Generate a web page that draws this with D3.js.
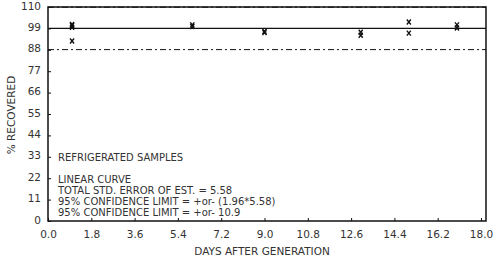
<!DOCTYPE html>
<html>
<head>
<meta charset="utf-8">
<script src="https://cdn.jsdelivr.net/npm/d3@7"></script>
<style>
  body { margin: 0; background: #fff; }
  text { font-family: "DejaVu Sans", sans-serif; fill: #333; }
</style>
</head>
<body>
<script>
// data
const days = [1, 1, 1, 1, 6, 6, 9, 9, 13, 13, 15, 15, 17, 17];
const recovered = [100.5, 99.5, 101, 92.5, 100.8, 100, 97.5, 96.8, 97, 95.5, 102.3, 96.6, 100.8, 99.2];
const fitLevel = 99;
const confLimit = 10.9;
const xTicks = [0, 1.8, 3.6, 5.4, 7.2, 9.0, 10.8, 12.6, 14.4, 16.2, 18.0];
const yTicks = [0, 11, 22, 33, 44, 55, 66, 77, 88, 99, 110];
const notes = [
  "REFRIGERATED SAMPLES",
  "",
  "LINEAR CURVE",
  "TOTAL STD. ERROR OF EST. = 5.58",
  "95% CONFIDENCE LIMIT = +or- (1.96*5.58)",
  "95% CONFIDENCE LIMIT = +or- 10.9"
];

const W = 500, H = 260;
const pLeft = 48, pRight = 486, pTop = 7, pBottom = 221;

const svg = d3.select("body").append("svg").attr("width", W).attr("height", H);

const x = d3.scaleLinear().domain([0, 18]).range([pLeft, 481]);
const y = d3.scaleLinear().domain([0, 110]).range([pBottom, pTop]);

// frame
svg.append("rect").attr("x", pLeft).attr("y", pTop)
  .attr("width", pRight - pLeft).attr("height", pBottom - pTop)
  .attr("fill", "none").attr("stroke", "#111").attr("stroke-width", 1.5);

// axes
const xAxis = d3.axisBottom(x).tickValues(xTicks).tickFormat(d3.format(".1f")).tickSizeInner(-3).tickSizeOuter(0);
const yAxis = d3.axisLeft(y).tickValues(yTicks).tickFormat(d => d).tickSizeInner(-3).tickSizeOuter(0);

const gx = svg.append("g").attr("transform", `translate(0,${pBottom})`).call(xAxis);
gx.select(".domain").remove();
gx.selectAll("text").attr("dy", "1.35em").style("font-size", "10.5px").style("font-family", "DejaVu Sans").style("fill", "#333");
gx.selectAll("line").attr("stroke", "#111");

const gy = svg.append("g").attr("transform", `translate(${pLeft},0)`).call(yAxis);
gy.select(".domain").remove();
gy.selectAll("text").attr("x", -7).attr("dy", "0.2em").style("font-size", "10.5px").style("font-family", "DejaVu Sans").style("fill", "#333");
gy.selectAll("line").attr("stroke", "#111");

// regression and confidence lines
svg.append("line").attr("x1", pLeft).attr("x2", pRight)
  .attr("y1", y(fitLevel)).attr("y2", y(fitLevel))
  .attr("stroke", "#111").attr("stroke-width", 1.2);

[fitLevel - confLimit, fitLevel + confLimit].forEach(v => {
  svg.append("line").attr("x1", pLeft).attr("x2", pRight)
    .attr("y1", y(Math.min(v, 110))).attr("y2", y(Math.min(v, 110)))
    .attr("stroke", "#111").attr("stroke-width", 1)
    .attr("stroke-dasharray", "6,3,2,3");
});

// markers
const pts = days.map((d, i) => [d, recovered[i]]);
const m = svg.append("g").attr("stroke", "#111").attr("stroke-width", 1.4);
pts.forEach(p => {
  const cx = x(p[0]), cy = y(p[1]);
  m.append("path").attr("d", `M${cx - 2},${cy - 2.5}L${cx + 2},${cy + 2.5}M${cx + 2},${cy - 2.5}L${cx - 2},${cy + 2.5}`);
});

// notes
svg.append("g").selectAll("text").data(notes).enter().append("text")
  .attr("x", 58).attr("y", (d, i) => 161 + i * 11)
  .style("font-size", "10px")
  .text(d => d);

// axis titles
svg.append("text").attr("x", 262).attr("y", 255).attr("text-anchor", "middle")
  .style("font-size", "10.5px").text("DAYS AFTER GENERATION");
svg.append("text").attr("transform", "translate(15,115) rotate(-90)").attr("text-anchor", "middle")
  .style("font-size", "10.5px").text("% RECOVERED");
</script>
</body>
</html>
